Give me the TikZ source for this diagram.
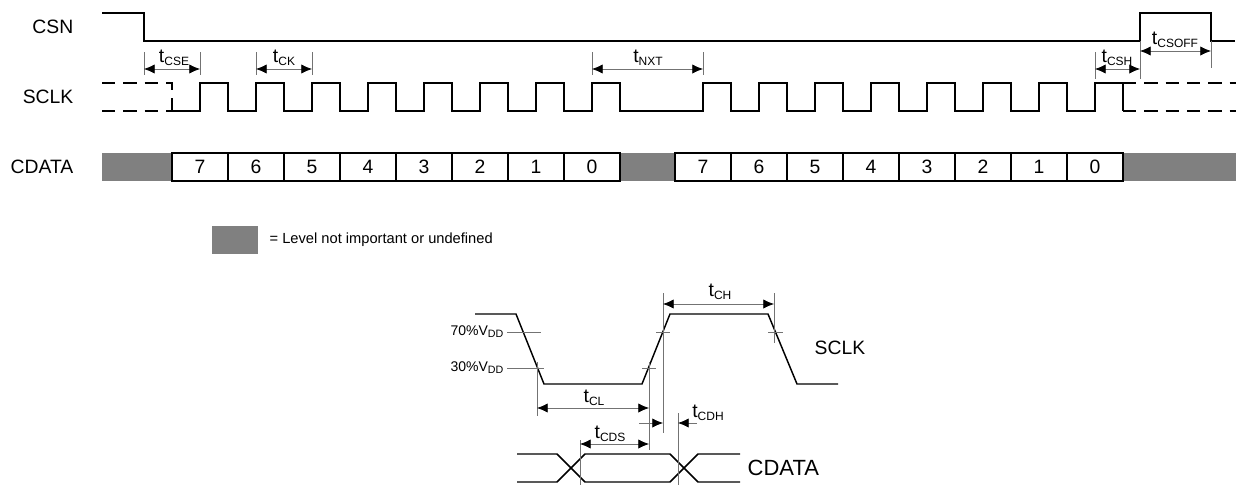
\documentclass[tikz,border=0pt]{standalone}
\usepackage{fontspec}
\setmainfont{Liberation Sans}
\usetikzlibrary{positioning,arrows.meta}

\newcommand{\tname}[1]{t\raisebox{-0.25ex}{\fontsize{9}{10}\selectfont #1}}
\newcommand{\vlevel}[1]{#1\%V\raisebox{-0.25ex}{\fontsize{8}{9}\selectfont DD}}

\tikzset{
  wave/.style={line width=1.3pt},
  dwave/.style={line width=1.5pt, dash pattern=on 10pt off 6pt},
  dim/.style={draw=black!55, line width=0.6pt},
  dimarr/.style={dim, {Latex[length=8pt,width=7pt,color=black]}-{Latex[length=8pt,width=7pt,color=black]}},
  dimto/.style={dim, -{Latex[length=8pt,width=7pt,color=black]}},
  sig/.style={anchor=east, font=\fontsize{14.5}{16}\selectfont},
  tlab/.style={inner sep=0pt, font=\fontsize{14.5}{16}\selectfont},
  bit/.style={draw, line width=1.2pt, inner sep=0pt, minimum width=42pt, minimum height=21pt, font=\fontsize{14.5}{16}\selectfont},
  undef/.style={fill=black!50}
}

\begin{document}
\begin{tikzpicture}[x=0.75pt, y=-0.75pt]
\useasboundingbox (0,0) rectangle (1240,486);

% signal names
\node[sig] (csn) at (78,27) {CSN};
\node[sig] (sclk) at (78,97) {SCLK};
\node[sig] (cdata) at (78,167) {CDATA};

% CSN
\draw[wave] (102,13) -- (144,13) -- (144,41) -- (1140,41) -- (1140,13) -- (1211,13) -- (1211,41) -- (1235,41);

% SCLK
\draw[dwave] (102,83) -- (172,83) -- (172,111);
\draw[dwave] (102,111) -- (172,111);
\draw[wave] (172,111)
  \foreach \k in {0,...,7}{ -- ({200+56*\k},111) -- ({200+56*\k},83) -- ({228+56*\k},83) -- ({228+56*\k},111) }
  -- (703,111)
  \foreach \k in {0,...,7}{ -- ({703+56*\k},111) -- ({703+56*\k},83) -- ({731+56*\k},83) -- ({731+56*\k},111) };
\draw[dwave] (1123,83) -- (1236,83);
\draw[dwave] (1123,111) -- (1236,111);

% CDATA
\fill[undef] (102,153) rectangle (172,181);
\fill[undef] (620,153) rectangle (675,181);
\fill[undef] (1123,153) rectangle (1236,181);
\foreach \b [count=\i from 0] in {7,6,5,4,3,2,1,0}{
  \node[bit] (a\b) at ({200+56*\i},167) {\b};
  \node[bit] (b\b) at ({703+56*\i},167) {\b};
}

% timing marks, upper part
\foreach \x in {144,200,256,312,592,703}
  \draw[dim] (\x,52) -- (\x,75);
\draw[dim] (1095,52) -- (1095,79);
\draw[dim] (1140,41) -- (1140,79);
\draw[dim] (1211,41) -- (1211,68);

\coordinate (cse1) at (144,69);  \coordinate (cse2) at (200,69);
\coordinate (ck1) at (256,69);   \coordinate (ck2) at (312,69);
\coordinate (nxt1) at (592,69);  \coordinate (nxt2) at (703,69);
\coordinate (csh1) at (1095,69); \coordinate (csh2) at (1140,69);
\coordinate (off1) at (1140,51); \coordinate (off2) at (1211,51);
\draw[dimarr] (cse1) -- (cse2);
\draw[dimarr] (ck1) -- (ck2);
\draw[dimarr] (nxt1) -- (nxt2);
\draw[dimarr] (csh1) -- (csh2);
\draw[dimarr] (off1) -- (off2);
\node[tlab] (tcse) at (174,58) {\tname{CSE}};
\node[tlab] (tck) at (284,58) {\tname{CK}};
\node[tlab] (tnxt) at (648,58) {\tname{NXT}};
\node[tlab] (tcsh) at (1117,58) {\tname{CSH}};
\node[tlab] (tcsoff) at (1175,40) {\tname{CSOFF}};

% legend
\fill[undef] (212,226) rectangle (258,254);
\node[anchor=west, font=\fontsize{11}{13}\selectfont] (legend) at (265,240) {= Level not important or undefined};

% detail: SCLK edges
\draw[line width=1.1pt] (475,314) -- (516,314) -- (544,384) -- (642,384) -- (670,314) -- (768,314) -- (797,384) -- (838,384);
\draw[dim] (507,332) -- (541,332);
\draw[dim] (507,368) -- (544,368);
\draw[dim] (642,368) -- (656,368);
\draw[dim] (656,332) -- (670,332);
\draw[dim] (768,332) -- (783,332);
\node[anchor=east, inner sep=1pt, font=\fontsize{10.5}{12}\selectfont] (v70) at (505,332) {\vlevel{70}};
\node[anchor=east, inner sep=1pt, font=\fontsize{10.5}{12}\selectfont] (v30) at (505,368) {\vlevel{30}};
\node[anchor=west, font=\fontsize{14.5}{16}\selectfont] (sclkd) at (810,348) {SCLK};

% detail: CDATA
\draw[line width=1.1pt] (517,454) -- (557,454) -- (585,482) -- (670,482) -- (698,454) -- (740,454);
\draw[line width=1.1pt] (517,482) -- (557,482) -- (585,454) -- (670,454) -- (698,482) -- (740,482);
\node[anchor=west, font=\fontsize{16.5}{18}\selectfont] (cdatad) at (743,468) {CDATA};

% detail: timing marks
\draw[dim] (537,362) -- (537,416);
\draw[dim] (649,362) -- (649,450);
\draw[dim] (663,293) -- (663,433);
\draw[dim] (774,293) -- (774,343);
\draw[dim] (580,440) -- (580,485);
\draw[dim] (678,413) -- (678,485);

\coordinate (ch1) at (663,304);  \coordinate (ch2) at (774,304);
\coordinate (cl1) at (537,408);  \coordinate (cl2) at (649,408);
\coordinate (cds1) at (580,444); \coordinate (cds2) at (649,444);
\coordinate (cdh1) at (639,423); \coordinate (cdh2) at (663,423);
\coordinate (cdh3) at (697,423); \coordinate (cdh4) at (678,423);
\draw[dimarr] (ch1) -- (ch2);
\draw[dimarr] (cl1) -- (cl2);
\draw[dimarr] (cds1) -- (cds2);
\draw[dimto] (cdh1) -- (cdh2);
\draw[dimto] (cdh3) -- (cdh4);
\node[tlab] (tch) at (720,292) {\tname{CH}};
\node[tlab] (tcl) at (594,398) {\tname{CL}};
\node[tlab] (tcds) at (610,434) {\tname{CDS}};
\node[tlab] (tcdh) at (708,413) {\tname{CDH}};
\end{tikzpicture}
\end{document}
